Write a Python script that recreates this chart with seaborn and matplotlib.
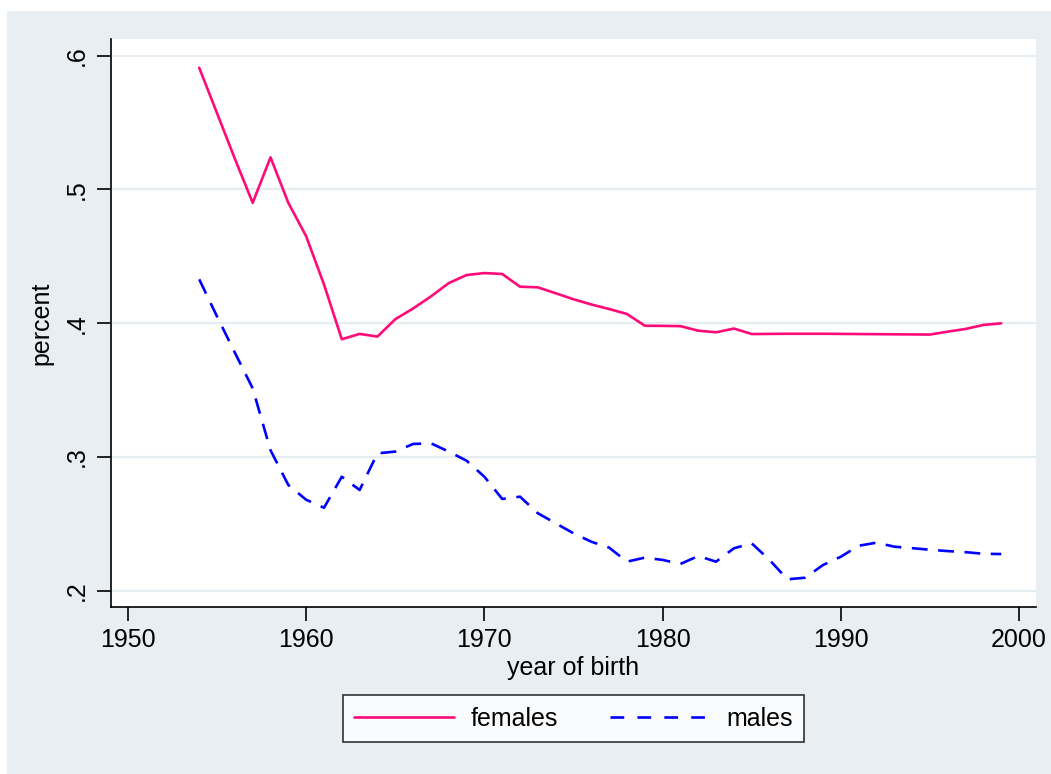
import numpy as np
import pandas as pd
import matplotlib
matplotlib.use("Agg")
import matplotlib.pyplot as plt
import seaborn as sns
from matplotlib.patches import Rectangle

# data
years = list(range(1954, 2000))
females = [0.591, 0.557, 0.523, 0.490, 0.524, 0.490, 0.465, 0.429, 0.388, 0.392,
           0.390, 0.403, 0.411, 0.420, 0.430, 0.436, 0.4375, 0.4368, 0.4273, 0.4268,
           0.4224, 0.4179, 0.414, 0.4106, 0.4069, 0.3981, 0.398, 0.3978, 0.3944, 0.3932,
           0.396, 0.3919, 0.3920, 0.3921, 0.3921, 0.3921, 0.3920, 0.3919, 0.3918, 0.3917,
           0.3916, 0.3915, 0.3937, 0.3957, 0.3987, 0.3999]
males = [0.4328, 0.405, 0.378, 0.3513, 0.305, 0.279, 0.268, 0.262, 0.2852, 0.2753,
         0.3027, 0.304, 0.3097, 0.3102, 0.304, 0.2972, 0.2852, 0.2686, 0.2703, 0.2579,
         0.2504, 0.2429, 0.2366, 0.2322, 0.2217, 0.2247, 0.223, 0.220, 0.2259, 0.2217,
         0.2317, 0.2354, 0.223, 0.2085, 0.2097, 0.2192, 0.2254, 0.2336, 0.2359, 0.2329,
         0.2318, 0.2306, 0.2296, 0.2288, 0.2276, 0.2274]
series_names = ["females", "males"]
x_ticks = [1950, 1960, 1970, 1980, 1990, 2000]
y_ticks = [0.2, 0.3, 0.4, 0.5, 0.6]
y_tick_labels = [".2", ".3", ".4", ".5", ".6"]

df = pd.DataFrame({
    "year": years * 2,
    "percent": females + males,
    "group": [series_names[0]] * len(years) + [series_names[1]] * len(years),
})

sns.set_style("white")
plt.rcParams["font.family"] = ["Liberation Sans", "DejaVu Sans"]
plt.rcParams["text.color"] = "black"
plt.rcParams["axes.labelcolor"] = "black"

bg = "#e8eef1"
W, H = 1051, 774
fig = plt.figure(figsize=(W / 100, H / 100), dpi=100, facecolor="white")
# outer gray panel
fig.patches.append(Rectangle((7 / W, 0), 1 - 7 / W, 1 - 11 / H, transform=fig.transFigure,
                             facecolor=bg, edgecolor="none", zorder=-10))

ax = fig.add_axes([111 / W, 1 - 607 / H, (1036 - 111) / W, (607 - 39) / H])
ax.set_facecolor("white")

palette = {"females": "#ff0a78", "males": "#0000ff"}
dashes = {"females": "", "males": (6, 4)}
sns.lineplot(data=df, x="year", y="percent", hue="group", style="group",
             palette=palette, dashes=dashes, linewidth=1.9, ax=ax, legend=False)

ax.set_xlim(1949.05, 2000.95)
ax.set_ylim(0.1878, 0.6125)
ax.set_xticks(x_ticks)
ax.set_yticks(y_ticks)
ax.set_yticklabels(y_tick_labels, rotation=90, va="center")
ax.tick_params(axis="both", direction="out", length=10, width=1.2, color="black",
               labelsize=18, labelcolor="black", pad=5, bottom=True, left=True)
ax.tick_params(axis="y", pad=6)
ax.grid(axis="y", color="#e6edf0", linewidth=1.6)
ax.grid(axis="x", visible=False)
for side in ["top", "right"]:
    ax.spines[side].set_visible(False)
for side in ["left", "bottom"]:
    ax.spines[side].set_color("black")
    ax.spines[side].set_linewidth(1.2)

ax.set_xlabel("year of birth", fontsize=18, labelpad=3, color="black")
ax.set_ylabel("percent", fontsize=18, labelpad=8, color="black")

handles = [plt.Line2D([], [], color=palette["females"], lw=1.9),
           plt.Line2D([], [], color=palette["males"], lw=1.9, linestyle=(0, (5.2, 5)))]
leg = fig.legend(handles, series_names, loc="center", ncol=2,
                 bbox_to_anchor=(573.5 / W, 1 - 718.5 / H), frameon=True, fancybox=False,
                 fontsize=18, handlelength=4.0, columnspacing=2.1, handletextpad=0.65,
                 borderpad=0.45, borderaxespad=0)
leg.get_frame().set_edgecolor("black")
leg.get_frame().set_linewidth(1.2)
leg.get_frame().set_facecolor("white")

fig.savefig("out.png", dpi=100, facecolor=fig.get_facecolor())
